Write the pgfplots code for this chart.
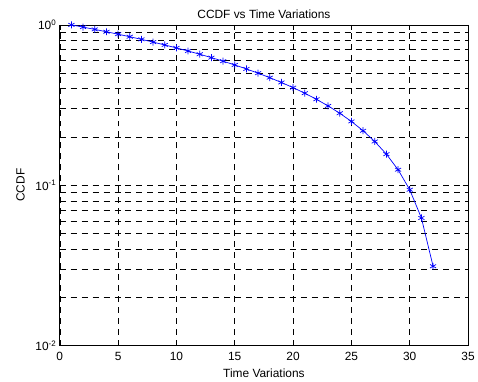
\documentclass[border=0pt]{standalone}
\usepackage{fontspec}
\setmainfont{Liberation Sans}
\usepackage{pgfplots}
\pgfplotsset{compat=1.18}
\begin{document}
\begin{tikzpicture}
\begin{axis}[
  scale only axis,
  width=410bp, height=322bp,
  xmin=0, xmax=35,
  ymode=log, ymin=0.01, ymax=1,
  xtick={0,5,...,35},
  ytick={0.01,0.1,1},
  yticklabels={10\textsuperscript{-2},10\textsuperscript{-1},10\textsuperscript{0}},
  minor ytick={0.02,0.03,0.04,0.05,0.06,0.07,0.08,0.09,0.2,0.3,0.4,0.5,0.6,0.7,0.8,0.9},
  /pgf/number format/assume math mode=true,
  tick align=inside,
  major tick length=5bp,
  minor tick length=3bp,
  tick style={black, line width=0.5pt},
  axis line style={black, line width=0.7pt},
  grid=both,
  major grid style={black, dash pattern=on 6bp off 5bp, line width=0.5pt},
  minor grid style={black, dash pattern=on 6bp off 5bp, line width=0.5pt},
  xminorgrids=false,
  ticklabel style={font=\fontsize{12}{14}\selectfont},
  label style={font=\fontsize{12}{14}\selectfont},
  title style={font=\fontsize{12}{14}\selectfont, yshift=-3bp},
  title={CCDF vs Time Variations},
  xlabel={Time Variations},
  ylabel={CCDF},
  xlabel style={yshift=-2bp},
  ylabel style={yshift=4bp},
  xticklabel style={yshift=-3bp},
]
\addplot[blue, line width=0.7pt, mark=asterisk, mark size=3.5bp, mark options={line width=0.7pt}] coordinates {
(1,1.0) (2,0.96875) (3,0.9375) (4,0.90625) (5,0.875) (6,0.84375) (7,0.8125) (8,0.78125)
(9,0.75) (10,0.71875) (11,0.6875) (12,0.65625) (13,0.625) (14,0.59375) (15,0.5625) (16,0.53125)
(17,0.5) (18,0.46875) (19,0.4375) (20,0.40625) (21,0.375) (22,0.34375) (23,0.3125) (24,0.28125)
(25,0.25) (26,0.21875) (27,0.1875) (28,0.15625) (29,0.125) (30,0.09375) (31,0.0625) (32,0.03125)
};
\end{axis}
\path ([xshift=-60bp,yshift=-36bp]current axis.south west) rectangle ([xshift=8bp,yshift=25bp]current axis.north east);
\end{tikzpicture}
\end{document}
